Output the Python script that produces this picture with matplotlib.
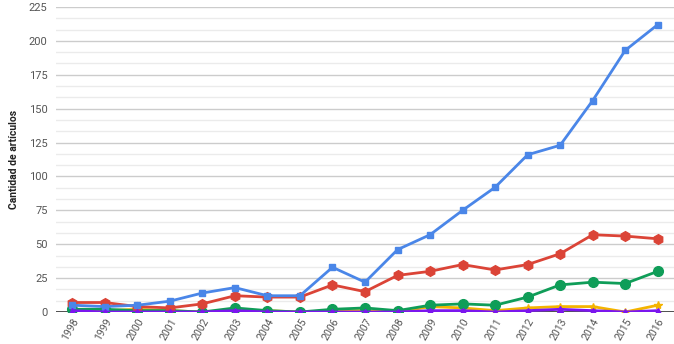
import matplotlib
matplotlib.use("Agg")
import matplotlib.pyplot as plt
from matplotlib.ticker import MultipleLocator

plt.rcParams['font.family'] = ['Roboto', 'DejaVu Sans']

years = list(range(1998, 2017))
blue = [5, 4, 5, 8, 14, 18, 12, 12, 33, 22, 46, 57, 75, 92, 116, 123, 156, 193, 212]
red = [7, 7, 4, 3, 6, 12, 11, 11, 20, 15, 27, 30, 35, 31, 35, 43, 57, 56, 54]
green = [2, 2, 1, 1, 0, 3, 1, 0, 2, 3, 1, 5, 6, 5, 11, 20, 22, 21, 30]
yellow = [1, 1, 2, 1, 0, 1, 1, 0, 1, 1, 0, 4, 3, 1, 3, 4, 4, 0, 5]
purple = [1, 0, 0, 0, 0, 1, 0, 0, 0, 0, 0, 1, 1, 0, 1, 2, 1, 0, 1]
ylabel = "Cantidad de artículos"

fig = plt.figure(figsize=(6.74, 3.44), dpi=100)
ax = fig.add_axes([56/674, 32/344, 618/674, 305/344])

ax.plot(years, blue, color='#4a86e8', lw=2, marker='s', ms=5, zorder=5)
ax.plot(years, red, color='#db4437', lw=2, marker='h', ms=7, zorder=4)
ax.plot(years, green, color='#0f9d58', lw=2, marker='o', ms=7, zorder=3)
ax.plot(years, yellow, color='#f4b400', lw=2, marker='*', ms=6, zorder=2)
ax.plot(years, purple, color='#7b16ee', lw=2, marker='^', ms=5, zorder=6)

ax.set_xlim(1997.5, 2016.5)
ax.set_ylim(0, 225)
ax.yaxis.set_major_locator(MultipleLocator(25))
ax.yaxis.set_minor_locator(MultipleLocator(25/3))
ax.grid(axis='y', which='major', color='#cccccc', lw=1)
ax.grid(axis='y', which='minor', color='#ebebeb', lw=1)
ax.set_axisbelow(True)
ax.axhline(0, color='#333333', lw=1.2, zorder=1)

for s in ax.spines.values():
    s.set_visible(False)
ax.tick_params(axis='both', which='both', length=0)
ax.tick_params(axis='y', labelsize=8, labelcolor='#555555', pad=6)
ax.set_xticks(years)
ax.set_xticklabels([str(y) for y in years], rotation=60, ha='right', rotation_mode='anchor',
                   fontsize=7.6, color='#555555')
ax.tick_params(axis='x', pad=3)
ax.set_ylabel(ylabel, fontsize=7.5, fontweight='bold', color='#222222', labelpad=7)

fig.savefig('out.png', dpi=100)
